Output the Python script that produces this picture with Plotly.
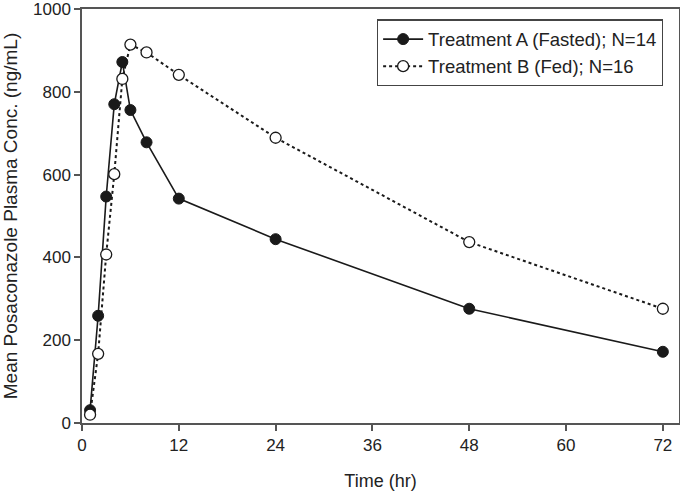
import plotly.graph_objects as go

time_hr = [1, 2, 3, 4, 5, 6, 8, 12, 24, 48, 72]
treat_a = [31, 259, 547, 770, 872, 756, 678, 542, 444, 276, 172]
treat_b = [20, 167, 407, 601, 831, 914, 895, 841, 689, 437, 276]
x_ticks = [0, 12, 24, 36, 48, 60, 72]
y_ticks = [0, 200, 400, 600, 800, 1000]

FONT = "Liberation Sans, Arial, sans-serif"

fig = go.Figure()
fig.add_trace(go.Scatter(
    x=time_hr, y=treat_a, mode="lines+markers",
    name="Treatment A (Fasted); N=14",
    line=dict(color="#1a1a1a", width=1.6, dash="solid"),
    marker=dict(symbol="circle", size=11, color="#1a1a1a",
                line=dict(color="#1a1a1a", width=1)),
))
fig.add_trace(go.Scatter(
    x=time_hr, y=treat_b, mode="lines+markers",
    name="Treatment B (Fed); N=16",
    line=dict(color="#1a1a1a", width=2, dash="dot"),
    marker=dict(symbol="circle", size=11, color="white",
                line=dict(color="#1a1a1a", width=1.3)),
))

axis_common = dict(
    showline=True, linecolor="#555555", linewidth=1.5, mirror=True,
    ticks="outside", ticklen=6, tickcolor="#555555", tickwidth=1.5,
    showgrid=False, zeroline=False, automargin=False,
    ticklabeloverflow="allow",
    tickfont=dict(family=FONT, size=17, color="#222222"),
)

fig.update_layout(
    width=680, height=494,
    margin=dict(l=82, r=1, t=9, b=71),
    paper_bgcolor="white", plot_bgcolor="white",
    font=dict(family=FONT, size=17, color="#222222"),
    xaxis=dict(range=[0, 74], tickvals=x_ticks,
               title=dict(text="Time (hr)", standoff=20,
                          font=dict(size=18, color="#222222")),
               **axis_common),
    yaxis=dict(range=[0, 1000], tickvals=y_ticks,
               title=dict(text="Mean Posaconazole Plasma Conc. (ng/mL)", standoff=10,
                          font=dict(size=19, color="#222222")),
               **axis_common),
    legend=dict(x=0.494, y=0.975, xanchor="left", yanchor="top",
                bordercolor="#444444", borderwidth=1.2, bgcolor="white",
                font=dict(size=18.5, color="#222222"),
                itemwidth=40, tracegroupgap=0),
    showlegend=True,
)

fig.write_html("out.html",
               config={"displayModeBar": False},
               post_script="document.body.style.margin='0';document.body.style.padding='0';")
